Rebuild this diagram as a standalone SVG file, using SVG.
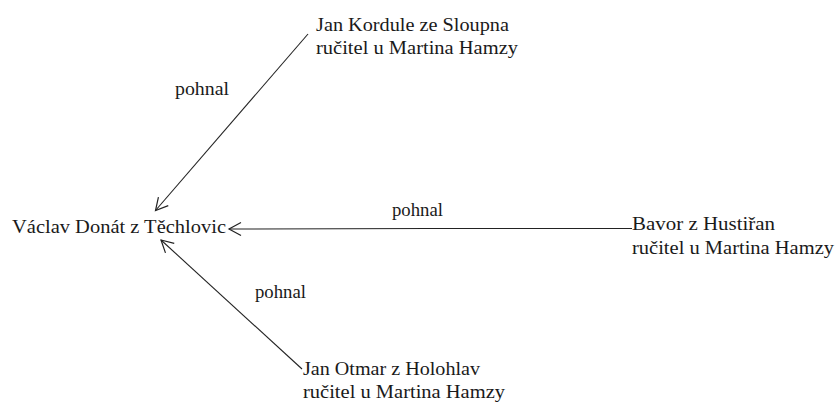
<svg xmlns="http://www.w3.org/2000/svg" width="835" height="403" viewBox="0 0 835 403">
<defs>
<style>
text{font-family:'Liberation Serif','DejaVu Serif',serif;font-size:19.5px;fill:#1a1a1a}
.c{stroke:#222;stroke-width:1.1;fill:none}
</style>
<marker id="ah" markerUnits="userSpaceOnUse" markerWidth="20" markerHeight="20" viewBox="-14 -10 16 20" refX="0" refY="0" orient="auto">
<path d="M-12,-6.5 L0,0 L-12,6.5" fill="none" stroke="#222" stroke-width="1.2"/>
</marker>
</defs>
<rect width="835" height="403" fill="#fff"/>
<g id="connectors" font-family="Liberation Serif, DejaVu Serif, serif">
<path class="c" d="M308,34 L155.5,210.5" marker-end="url(#ah)"/>
<path class="c" d="M632,228.5 L430,228.5 L229,229" marker-end="url(#ah)"/>
<path class="c" d="M302,369 L161,240" marker-end="url(#ah)"/>
<text x="175" y="95" textLength="54" lengthAdjust="spacingAndGlyphs">pohnal</text>
<text x="392" y="216" textLength="51" lengthAdjust="spacingAndGlyphs">pohnal</text>
<text x="255" y="298" textLength="51" lengthAdjust="spacingAndGlyphs">pohnal</text>
</g>
<g id="vaclav" font-family="Liberation Serif, DejaVu Serif, serif">
<text x="12" y="233" textLength="214" lengthAdjust="spacingAndGlyphs">Václav Donát z Těchlovic</text>
</g>
<g id="kordule" font-family="Liberation Serif, DejaVu Serif, serif">
<text x="316" y="31" textLength="193" lengthAdjust="spacingAndGlyphs">Jan Kordule ze Sloupna</text>
<text x="316" y="54" textLength="202" lengthAdjust="spacingAndGlyphs">ručitel u Martina Hamzy</text>
</g>
<g id="bavor" font-family="Liberation Serif, DejaVu Serif, serif">
<text x="632" y="230" textLength="143" lengthAdjust="spacingAndGlyphs">Bavor z Hustiřan</text>
<text x="632" y="254" textLength="202" lengthAdjust="spacingAndGlyphs">ručitel u Martina Hamzy</text>
</g>
<g id="otmar" font-family="Liberation Serif, DejaVu Serif, serif">
<text x="303" y="375" textLength="177" lengthAdjust="spacingAndGlyphs">Jan Otmar z Holohlav</text>
<text x="303" y="398" textLength="202" lengthAdjust="spacingAndGlyphs">ručitel u Martina Hamzy</text>
</g>
</svg>
